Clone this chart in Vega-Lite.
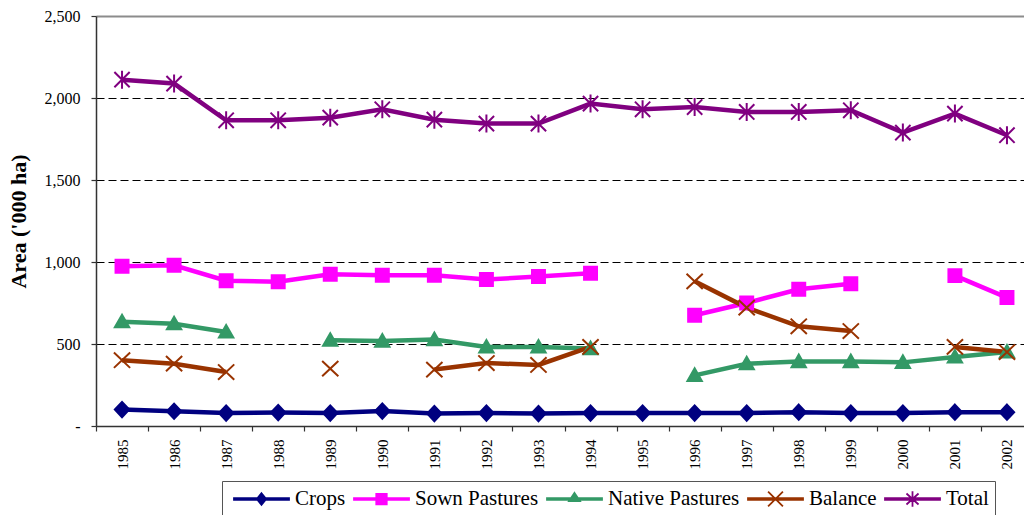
{
  "$schema": "https://vega.github.io/schema/vega-lite/v6.json",
  "width": 928,
  "height": 410,
  "autosize": "none",
  "padding": {"left": 96, "top": 16, "right": 0, "bottom": 89},
  "background": "white",
  "config": {
    "view": {"stroke": null},
    "font": "Liberation Serif"
  },
  "data": {
    "values": [
      {"year": 1985, "Crops": 100, "Sown Pastures": 974, "Native Pastures": 636, "Balance": 401, "Total": 2112},
      {"year": 1986, "Crops": 90, "Sown Pastures": 980, "Native Pastures": 624, "Balance": 380, "Total": 2088},
      {"year": 1987, "Crops": 79, "Sown Pastures": 886, "Native Pastures": 573, "Balance": 329, "Total": 1864},
      {"year": 1988, "Crops": 82, "Sown Pastures": 880, "Native Pastures": null, "Balance": null, "Total": 1864},
      {"year": 1989, "Crops": 79, "Sown Pastures": 925, "Native Pastures": 523, "Balance": 350, "Total": 1880},
      {"year": 1990, "Crops": 91, "Sown Pastures": 919, "Native Pastures": 518, "Balance": null, "Total": 1931},
      {"year": 1991, "Crops": 76, "Sown Pastures": 919, "Native Pastures": 527, "Balance": 344, "Total": 1868},
      {"year": 1992, "Crops": 79, "Sown Pastures": 893, "Native Pastures": 482, "Balance": 384, "Total": 1844},
      {"year": 1993, "Crops": 76, "Sown Pastures": 911, "Native Pastures": 482, "Balance": 372, "Total": 1844},
      {"year": 1994, "Crops": 79, "Sown Pastures": 931, "Native Pastures": 472, "Balance": 482, "Total": 1966},
      {"year": 1995, "Crops": 79, "Sown Pastures": null, "Native Pastures": null, "Balance": null, "Total": 1931},
      {"year": 1996, "Crops": 79, "Sown Pastures": 675, "Native Pastures": 309, "Balance": 882, "Total": 1945},
      {"year": 1997, "Crops": 79, "Sown Pastures": 750, "Native Pastures": 380, "Balance": 722, "Total": 1915},
      {"year": 1998, "Crops": 84, "Sown Pastures": 834, "Native Pastures": 393, "Balance": 608, "Total": 1915},
      {"year": 1999, "Crops": 79, "Sown Pastures": 868, "Native Pastures": 393, "Balance": 579, "Total": 1925},
      {"year": 2000, "Crops": 79, "Sown Pastures": null, "Native Pastures": 388, "Balance": null, "Total": 1789},
      {"year": 2001, "Crops": 84, "Sown Pastures": 917, "Native Pastures": 421, "Balance": 482, "Total": 1905},
      {"year": 2002, "Crops": 84, "Sown Pastures": 783, "Native Pastures": 451, "Balance": 451, "Total": 1773}
    ]
  },
  "transform": [
    {"fold": ["Crops", "Sown Pastures", "Native Pastures", "Balance", "Total"], "as": ["series", "value"]}
  ],
  "encoding": {
    "x": {
      "field": "year",
      "type": "ordinal",
      "scale": {"type": "band", "paddingInner": 0, "paddingOuter": 0, "range": [0, 937]},
      "axis": {
        "title": null,
        "labelAngle": -90,
        "labelFont": "Liberation Serif",
        "labelFontSize": 15,
        "labelColor": "black",
        "labelPadding": 8,
        "tickBand": "extent",
        "tickSize": 5,
        "tickColor": "#333333",
        "tickWidth": 1.2,
        "domainColor": "#333333",
        "domainWidth": 1.5,
        "grid": false
      }
    },
    "y": {
      "field": "value",
      "type": "quantitative",
      "scale": {"domain": [0, 2500], "nice": false, "zero": true},
      "axis": {
        "values": [0, 500, 1000, 1500, 2000, 2500],
        "title": "Area ('000 ha)",
        "titleFont": "Liberation Serif",
        "titleFontSize": 22,
        "titleFontWeight": "bold",
        "titleColor": "black",
        "titlePadding": 14,
        "labelFont": "Liberation Serif",
        "labelFontSize": 16,
        "labelColor": "black",
        "labelPadding": 11,
        "labelExpr": "datum.value == 0 ? '-' : format(datum.value, ',')",
        "tickSize": 5,
        "tickColor": "#333333",
        "tickWidth": 1.2,
        "domainColor": "#333333",
        "domainWidth": 1.5,
        "grid": true,
        "gridColor": {"condition": {"test": "datum.value == 2500", "value": "#8c8c8c"}, "value": "black"},
        "gridDash": {"condition": {"test": "datum.value == 2500", "value": []}, "value": [8, 4]},
        "gridWidth": {"condition": {"test": "datum.value == 2500", "value": 2}, "value": 1},
        "gridOpacity": {"condition": {"test": "datum.value == 0", "value": 0}, "value": 1}
      }
    }
  },
  "layer": [
    {
      "mark": {"type": "line", "strokeWidth": 4.5, "invalid": "break-paths-show-domains"},
      "encoding": {
        "color": {
          "field": "series",
          "type": "nominal",
          "scale": {
            "domain": ["Crops", "Sown Pastures", "Native Pastures", "Balance", "Total"],
            "range": ["#000080", "#ff00ff", "#339966", "#993300", "#800080"]
          },
          "legend": null
        }
      }
    },
    {
      "transform": [{"filter": "datum.value != null"}],
      "mark": {"type": "point", "filled": true, "opacity": 1, "size": 324, "strokeWidth": 2},
      "encoding": {
        "color": {
          "field": "series",
          "type": "nominal",
          "scale": {
            "domain": ["Crops", "Sown Pastures", "Native Pastures", "Balance", "Total"],
            "range": ["#000080", "#ff00ff", "#339966", "#993300", "#800080"]
          },
          "legend": null
        },
        "stroke": {
          "field": "series",
          "type": "nominal",
          "scale": {
            "domain": ["Crops", "Sown Pastures", "Native Pastures", "Balance", "Total"],
            "range": ["#000080", "#ff00ff", "#339966", "#993300", "#800080"]
          },
          "legend": null
        },
        "shape": {
          "field": "series",
          "type": "nominal",
          "scale": {
            "domain": ["Crops", "Sown Pastures", "Native Pastures", "Balance", "Total"],
            "range": [
              "M0,-0.85L0.8,0L0,0.85L-0.8,0Z",
              "M-0.72,-0.72H0.72V0.72H-0.72Z",
              "M0,-0.78L0.8,0.62H-0.8Z",
              "M-0.9,-0.85L0.9,0.85M-0.9,0.85L0.9,-0.85",
              "M-0.85,-0.85L0.85,0.85M-0.85,0.85L0.85,-0.85M0,-1V1"
            ]
          },
          "legend": null
        }
      }
    },
    {
      "transform": [{"filter": "false"}],
      "mark": {"type": "point", "filled": true, "opacity": 1, "strokeWidth": 1.8},
      "encoding": {
        "color": {
          "field": "series",
          "type": "nominal",
          "scale": {
            "domain": ["Crops", "Sown Pastures", "Native Pastures", "Balance", "Total"],
            "range": ["#000080", "#ff00ff", "#339966", "#993300", "#800080"]
          },
          "legend": {
            "title": null, "orient": "none", "legendX": 126, "legendY": 465,
            "direction": "horizontal", "columns": 5,
            "symbolSize": 3025, "clipHeight": 24, "symbolOffset": 5, "labelOffset": 5,
            "columnPadding": 2, "padding": 6, "strokeColor": "#555555", "fillColor": "white",
            "labelFont": "Liberation Serif", "labelFontSize": 21, "labelColor": "black", "labelLimit": 0,
            "symbolStrokeWidth": 1.8, "symbolOpacity": 1
          }
        },
        "stroke": {
          "field": "series",
          "type": "nominal",
          "scale": {
            "domain": ["Crops", "Sown Pastures", "Native Pastures", "Balance", "Total"],
            "range": ["#000080", "#ff00ff", "#339966", "#993300", "#800080"]
          },
          "legend": {
            "title": null, "orient": "none", "legendX": 126, "legendY": 465,
            "direction": "horizontal", "columns": 5,
            "symbolSize": 3025, "clipHeight": 24, "symbolOffset": 5, "labelOffset": 5,
            "columnPadding": 2, "padding": 6, "strokeColor": "#555555", "fillColor": "white",
            "labelFont": "Liberation Serif", "labelFontSize": 21, "labelColor": "black", "labelLimit": 0,
            "symbolStrokeWidth": 1.8, "symbolOpacity": 1
          }
        },
        "shape": {
          "field": "series",
          "type": "nominal",
          "scale": {
            "domain": ["Crops", "Sown Pastures", "Native Pastures", "Balance", "Total"],
            "range": [
              "M-1,-0.03H1V0.03H-1Z M0,-0.21L0.17,0L0,0.21L-0.17,0Z",
              "M-1,-0.03H1V0.03H-1Z M-0.19,-0.19H0.19V0.19H-0.19Z",
              "M-1,-0.03H1V0.03H-1Z M0,-0.22L0.2,0.08H-0.2Z",
              "M-1,-0.03H1V0.03H-1Z M-0.27,-0.27L0.27,0.27M-0.27,0.27L0.27,-0.27",
              "M-1,-0.03H1V0.03H-1Z M-0.22,-0.2L0.22,0.2M-0.22,0.2L0.22,-0.2M0,-0.28V0.28"
            ]
          },
          "legend": {
            "title": null, "orient": "none", "legendX": 126, "legendY": 465,
            "direction": "horizontal", "columns": 5,
            "symbolSize": 3025, "clipHeight": 24, "symbolOffset": 5, "labelOffset": 5,
            "columnPadding": 2, "padding": 6, "strokeColor": "#555555", "fillColor": "white",
            "labelFont": "Liberation Serif", "labelFontSize": 21, "labelColor": "black", "labelLimit": 0,
            "symbolStrokeWidth": 1.8, "symbolOpacity": 1
          }
        }
      }
    }
  ],
  "resolve": {"scale": {"color": "independent", "stroke": "independent", "shape": "independent"}}
}
